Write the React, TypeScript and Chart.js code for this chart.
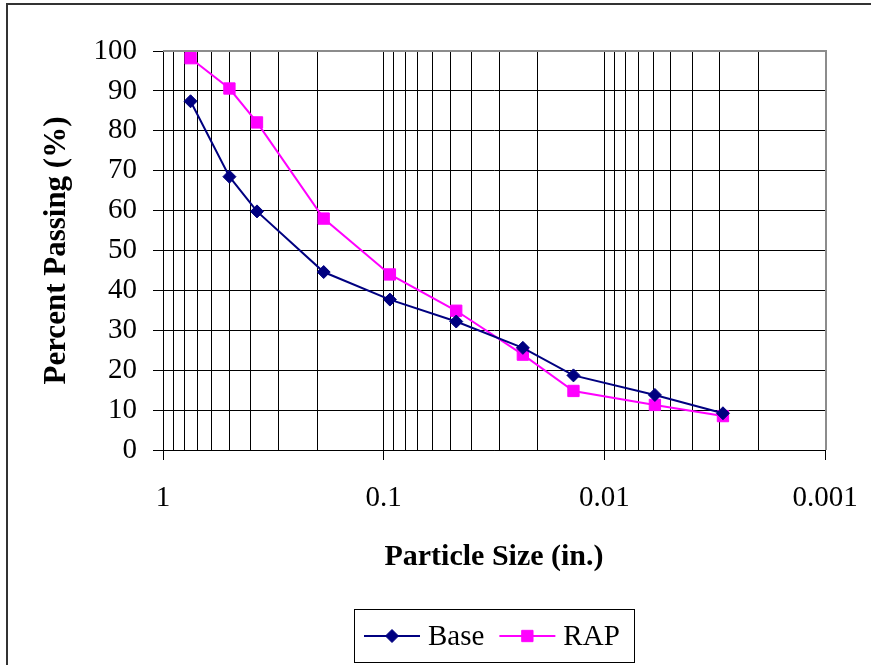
import React, { useEffect, useRef } from 'react';
import { Chart, registerables } from 'chart.js';

Chart.register(...registerables);

// ---- Data ----
const PARTICLE_SIZES = [0.75, 0.5, 0.375, 0.187, 0.0937, 0.0469, 0.0234, 0.0138, 0.0059, 0.0029];
const BASE_PASSING = [87.4, 68.5, 59.8, 44.6, 37.7, 32.2, 25.6, 18.7, 13.8, 9.2];
const RAP_PASSING = [98.2, 90.6, 82.1, 58.0, 44.0, 34.9, 23.9, 14.8, 11.3, 8.5];
const SERIES_NAMES = ['Base', 'RAP'];
const SERIES_COLORS = ['#000080', '#FF00FF'];
const X_TICK_LABELS = ['1', '0.1', '0.01', '0.001'];
const X_DECADES = [0, -1, -2, -3];
const Y_MIN = 0;
const Y_MAX = 100;
const Y_STEP = 10;
const X_TITLE = 'Particle Size (in.)';
const Y_TITLE = 'Percent Passing (%)';

const FONT_FAMILY = "'Liberation Serif', 'Times New Roman', Times, serif";

function isMajor(v: number) {
  const l = Math.log10(v);
  return Math.abs(l - Math.round(l)) < 1e-6;
}

function majorLabel(v: number) {
  const l = Math.round(Math.log10(v));
  const i = X_DECADES.indexOf(l);
  return i >= 0 ? X_TICK_LABELS[i] : '';
}

function drawMarker(ctx: CanvasRenderingContext2D, style: string, x: number, y: number, r: number, color: string) {
  ctx.save();
  ctx.fillStyle = color;
  ctx.strokeStyle = color;
  ctx.lineWidth = 1;
  ctx.beginPath();
  if (style === 'rectRot') {
    ctx.moveTo(x, y - r);
    ctx.lineTo(x + r, y);
    ctx.lineTo(x, y + r);
    ctx.lineTo(x - r, y);
    ctx.closePath();
  } else {
    const s = r * Math.SQRT1_2;
    ctx.rect(x - s, y - s, 2 * s, 2 * s);
  }
  ctx.fill();
  ctx.stroke();
  ctx.restore();
}

const decorPlugin = {
  id: 'decor',
  beforeDraw(chart: any) {
    const ctx = chart.ctx as CanvasRenderingContext2D;
    ctx.save();
    ctx.fillStyle = '#ffffff';
    ctx.fillRect(0, 0, chart.width, chart.height);
    ctx.restore();
  },
  afterDraw(chart: any) {
    const ctx = chart.ctx as CanvasRenderingContext2D;
    const { left, right, top, bottom } = chart.chartArea;
    ctx.save();
    // plot area top & right border (grey)
    ctx.strokeStyle = '#8c8c8c';
    ctx.lineWidth = 2;
    ctx.beginPath();
    ctx.moveTo(left, top);
    ctx.lineTo(right + 1, top);
    ctx.lineTo(right + 1, bottom);
    ctx.stroke();

    // outer frame (top and left edges visible)
    ctx.strokeStyle = '#333333';
    ctx.lineWidth = 2;
    ctx.beginPath();
    ctx.moveTo(chart.width, 4);
    ctx.lineTo(7, 4);
    ctx.lineTo(7, chart.height);
    ctx.stroke();

    // legend
    const fontSize = 29;
    ctx.font = `${fontSize}px ${FONT_FAMILY}`;
    ctx.textBaseline = 'middle';
    ctx.textAlign = 'left';
    const lineLen = 56;
    const textGap = 8;
    const itemGap = 15;
    const padL = 10;
    const padR = 14;
    const styles = ['rectRot', 'rect'];
    const radii = [6.5, 8];
    const widths = SERIES_NAMES.map((n) => lineLen + textGap + ctx.measureText(n).width);
    const total = padL + widths.reduce((a, b) => a + b, 0) + itemGap * (SERIES_NAMES.length - 1) + padR;
    const cx = (left + right) / 2;
    const boxLeft = Math.round(cx - total / 2);
    const boxTop = 609;
    const boxH = 53;
    const midY = boxTop + 27;
    ctx.strokeStyle = '#000000';
    ctx.lineWidth = 1;
    ctx.strokeRect(boxLeft + 0.5, boxTop + 0.5, Math.round(total), boxH);
    let x = boxLeft + padL;
    SERIES_NAMES.forEach((name, i) => {
      ctx.strokeStyle = SERIES_COLORS[i];
      ctx.lineWidth = 2;
      ctx.beginPath();
      ctx.moveTo(x, midY);
      ctx.lineTo(x + lineLen, midY);
      ctx.stroke();
      drawMarker(ctx, styles[i], x + lineLen / 2, midY, radii[i], SERIES_COLORS[i]);
      ctx.fillStyle = '#000000';
      ctx.fillText(name, x + lineLen + textGap, midY + 1);
      x += widths[i] + itemGap;
    });
    ctx.restore();
  },
};

export default function App() {
  const canvasRef = useRef<HTMLCanvasElement | null>(null);

  useEffect(() => {
    document.body.style.margin = '0';
    const canvas = canvasRef.current;
    if (!canvas) return;

    const tickFont = { family: FONT_FAMILY, size: 29 };

    const chart = new Chart(canvas, {
      type: 'scatter',
      data: {
        datasets: [
          {
            label: SERIES_NAMES[0],
            data: PARTICLE_SIZES.map((x, i) => ({ x, y: BASE_PASSING[i] })),
            showLine: true,
            borderColor: SERIES_COLORS[0],
            backgroundColor: SERIES_COLORS[0],
            borderWidth: 2,
            pointStyle: 'rectRot',
            pointRadius: 6.5,
            pointBorderWidth: 1,
            pointBackgroundColor: SERIES_COLORS[0],
            pointBorderColor: SERIES_COLORS[0],
          },
          {
            label: SERIES_NAMES[1],
            data: PARTICLE_SIZES.map((x, i) => ({ x, y: RAP_PASSING[i] })),
            showLine: true,
            borderColor: SERIES_COLORS[1],
            backgroundColor: SERIES_COLORS[1],
            borderWidth: 2,
            pointStyle: 'rect',
            pointRadius: 8,
            pointBorderWidth: 1,
            pointBackgroundColor: SERIES_COLORS[1],
            pointBorderColor: SERIES_COLORS[1],
          },
        ],
      },
      options: {
        animation: false,
        responsive: false,
        devicePixelRatio: 1,
        layout: { padding: { top: 51, right: 46, bottom: 0, left: 0 } },
        plugins: {
          legend: { display: false },
          tooltip: { enabled: false },
        },
        scales: {
          x: {
            type: 'logarithmic',
            position: 'bottom',
            reverse: true,
            min: 0.001,
            max: 1,
            afterBuildTicks: (scale: any) => {
              const ticks: any[] = [];
              for (let d = -3; d <= 0; d++) {
                for (let m = 1; m <= 9; m++) {
                  if (d === 0 && m > 1) break;
                  ticks.push({ value: parseFloat((m * Math.pow(10, d)).toPrecision(6)) });
                }
              }
              scale.ticks = ticks;
            },
            afterFit: (scale: any) => {
              scale.height = 215;
            },
            grid: {
              color: '#000000',
              lineWidth: 1,
              tickLength: 10,
              tickColor: (c: any) => (c.tick && isMajor(c.tick.value) ? '#000000' : 'rgba(0,0,0,0)'),
            },
            border: { display: true, color: '#000000', width: 1 },
            ticks: {
              autoSkip: false,
              maxRotation: 0,
              minRotation: 0,
              padding: 21,
              color: '#000000',
              font: tickFont,
              callback: (v: any) => (isMajor(Number(v)) ? majorLabel(Number(v)) : ''),
            },
            title: {
              display: true,
              text: X_TITLE,
              color: '#000000',
              font: { family: FONT_FAMILY, size: 30, weight: 'bold' },
              padding: { top: 0, bottom: 90 },
            },
          },
          y: {
            type: 'linear',
            min: Y_MIN,
            max: Y_MAX,
            afterFit: (scale: any) => {
              scale.width = 163;
            },
            grid: {
              color: '#000000',
              lineWidth: 1,
              tickLength: 10,
              tickColor: '#000000',
            },
            border: { display: true, color: '#000000', width: 1 },
            ticks: {
              stepSize: Y_STEP,
              padding: 16,
              color: '#000000',
              font: tickFont,
            },
            title: {
              display: true,
              text: Y_TITLE,
              color: '#000000',
              font: { family: FONT_FAMILY, size: 31, weight: 'bold' },
              padding: { top: 38, bottom: 0 },
            },
          },
        },
      },
      plugins: [decorPlugin],
    });

    return () => {
      chart.destroy();
    };
  }, []);

  return (
    <div style={{ position: 'absolute', left: 0, top: 0, width: 871, height: 665, background: '#fff' }}>
      <canvas ref={canvasRef} width={871} height={665} style={{ display: 'block', width: 871, height: 665 }} />
    </div>
  );
}
